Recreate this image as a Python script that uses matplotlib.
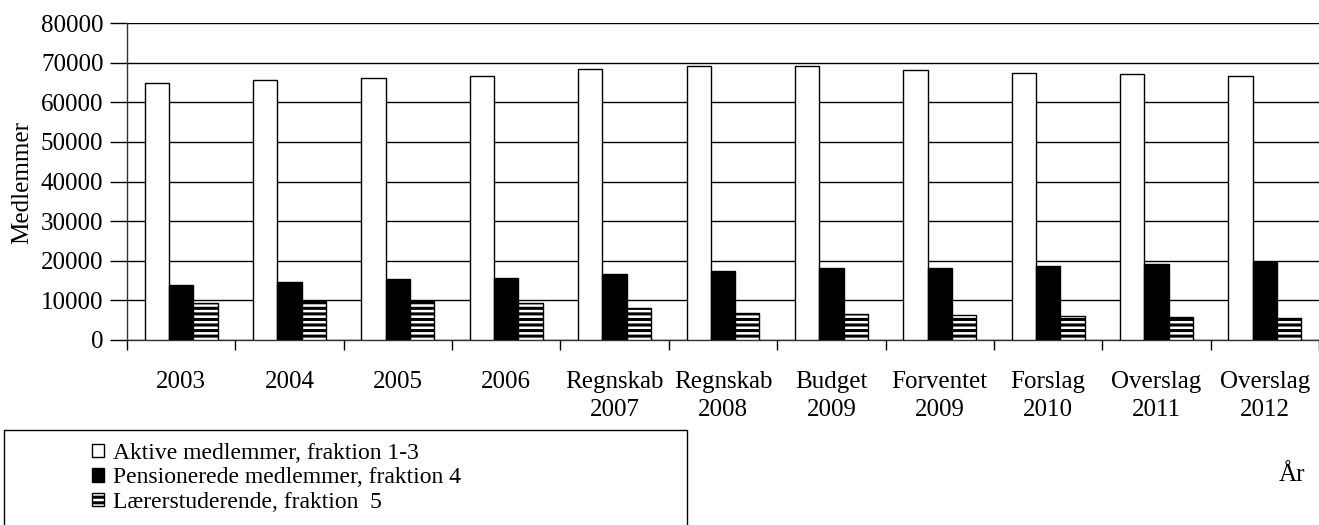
import matplotlib
matplotlib.use("Agg")
import matplotlib.pyplot as plt
from matplotlib.patches import Patch, Rectangle
import numpy as np

categories = ["2003", "2004", "2005", "2006", "Regnskab\n2007", "Regnskab\n2008",
              "Budget\n2009", "Forventet\n2009", "Forslag\n2010", "Overslag\n2011", "Overslag\n2012"]
aktive = [65000, 65700, 66100, 66700, 68400, 69100, 69100, 68100, 67500, 67100, 66600]
pensionerede = [13900, 14600, 15500, 15700, 16600, 17400, 18100, 18100, 18600, 19100, 19600]
studerende = [9300, 9800, 9800, 9300, 8200, 6900, 6600, 6300, 6000, 5800, 5600]
series_labels = ["Aktive medlemmer, fraktion 1-3",
                 "Pensionerede medlemmer, fraktion 4",
                 "Lærerstuderende, fraktion  5"]
yticks = [0, 10000, 20000, 30000, 40000, 50000, 60000, 70000, 80000]

plt.rcParams['font.family'] = ['Liberation Serif', 'DejaVu Serif']
plt.rcParams['hatch.linewidth'] = 2.2
plt.rcParams['hatch.color'] = 'black'

FS = 18
W, H = 1319, 525
fig = plt.figure(figsize=(W / 100, H / 100), dpi=100)
ax = fig.add_axes([127 / W, (H - 340) / H, (1319 - 127) / W, (340 - 23.2) / H])

x = np.arange(len(categories))
bw = 0.224
styles = [dict(facecolor='white', edgecolor='black'),
          dict(facecolor='black', edgecolor='black'),
          dict(facecolor='white', edgecolor='black', hatch='---')]
for k, vals in enumerate([aktive, pensionerede, studerende]):
    ax.bar(x + (k - 1) * bw, vals, width=bw, linewidth=1.0, zorder=3, **styles[k])

ax.set_xlim(-0.5, len(categories) - 0.5)
ax.set_ylim(0, 80000)
ax.set_yticks(yticks)
ax.set_yticklabels([str(v) for v in yticks], fontsize=FS)
ax.yaxis.grid(True, color='black', linewidth=1.0, zorder=0)
ax.set_axisbelow(True)

ax.set_xticks(np.arange(len(categories) + 1) - 0.5)
ax.set_xticklabels([])
ax.set_xticks(x, minor=True)
ax.set_xticklabels(categories, minor=True, fontsize=FS, linespacing=1.4)
ax.tick_params(axis='x', which='major', length=7, width=1, direction='out')
ax.tick_params(axis='x', which='minor', length=0, pad=22)
ax.tick_params(axis='y', length=12, width=1, direction='out', pad=5)

for s in ['top', 'right']:
    ax.spines[s].set_visible(False)
for s in ['left', 'bottom']:
    ax.spines[s].set_linewidth(1.0)
    ax.spines[s].set_color('#333333')

fig.text(22.5 / W, 1 - 183 / H, "Medlemmer", rotation=90, ha='center', va='center', fontsize=FS)
fig.text(1292 / W, 1 - 475 / H, "År", ha='center', va='center', fontsize=FS)

# legend frame
fig.patches.append(Rectangle((4 / W, -0.02), 683 / W, (H - 430) / H + 0.02,
                             transform=fig.transFigure, facecolor='white',
                             edgecolor='black', linewidth=1.0, zorder=1))
handles = [Patch(linewidth=1.0, **styles[k]) for k in range(3)]
leg = fig.legend(handles, series_labels, loc='upper left',
                 bbox_to_anchor=(92 / W, 1 - 443 / H), frameon=False,
                 fontsize=17, handlelength=0.5, handleheight=0.5,
                 handletextpad=0.4, labelspacing=0.14, borderpad=0, borderaxespad=0)
leg.set_zorder(2)

fig.savefig("out.png", dpi=100)
